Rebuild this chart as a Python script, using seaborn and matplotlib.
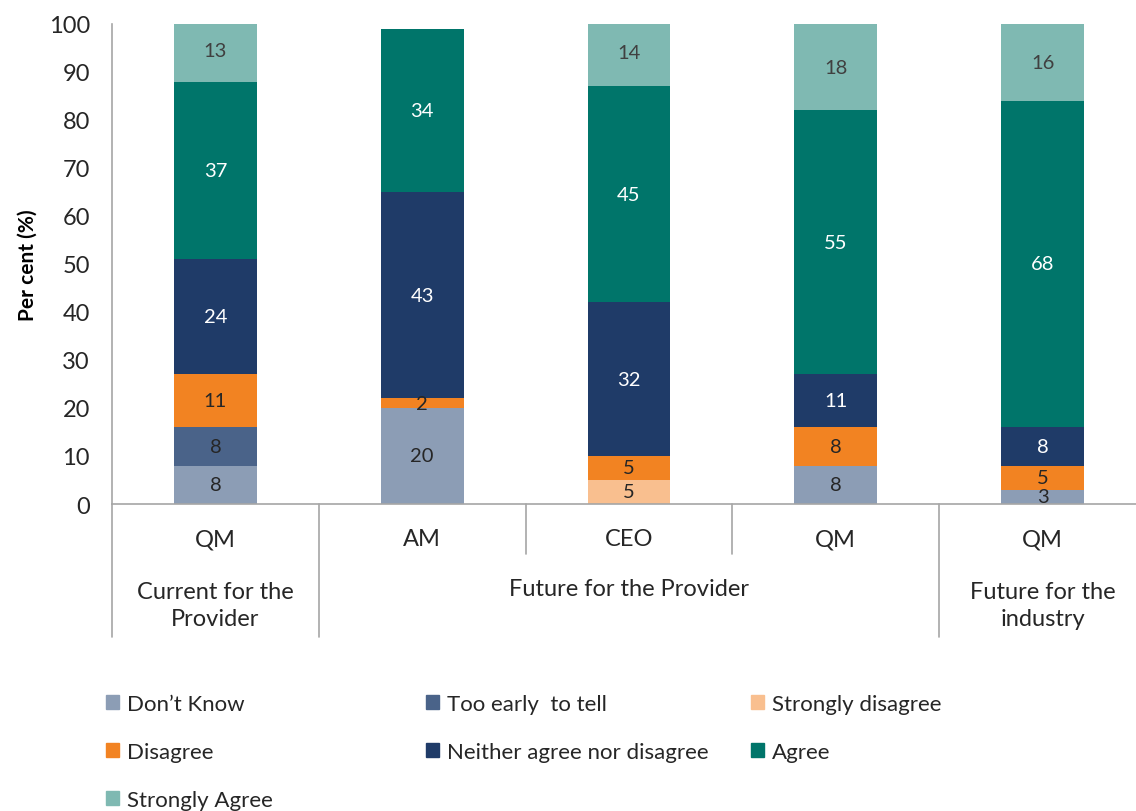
import matplotlib
matplotlib.use("Agg")
import matplotlib.pyplot as plt
import matplotlib.patches as mpatches
import seaborn as sns
import numpy as np
import pandas as pd

# ---- data ----
categories = ["QM", "AM", "CEO", "QM", "QM"]
groups = ["Current for the\nProvider", "Future for the Provider", "Future for the\nindustry"]
series = ["Don\u2019t Know", "Too early  to tell", "Strongly disagree", "Disagree",
          "Neither agree nor disagree", "Agree", "Strongly Agree"]
dont_know = [8, 20, 0, 8, 3]
too_early = [8, 0, 0, 0, 0]
strongly_disagree = [0, 0, 5, 0, 0]
disagree = [11, 2, 5, 8, 5]
neither = [24, 43, 32, 11, 8]
agree = [37, 34, 45, 55, 68]
strongly_agree = [13, 0, 14, 18, 16]

colors = ["#8C9DB5", "#4A6389", "#F9BF8F", "#F28322", "#1F3B68", "#00756A", "#7FB9B2"]
label_colors = ["#262626", "#262626", "#262626", "#262626", "white", "white", "#404040"]

values = [dont_know, too_early, strongly_disagree, disagree, neither, agree, strongly_agree]

sns.set_style("white")
plt.rcParams["font.family"] = ["Lato", "DejaVu Sans"]

fig = plt.figure(figsize=(11.36, 8.12), dpi=100)
ax_left = 112 / 1136
ax_w = (1146 - 112) / 1136
ax_bot = (812 - 505) / 812
ax_h = 480 / 812
ax = fig.add_axes([ax_left, ax_bot, ax_w, ax_h])

ids = [str(i) for i in range(len(categories))]
vals = np.array(values, dtype=float)
cum = np.cumsum(vals, axis=0)

# draw cumulative totals from top layer down so they stack visually
for k in range(len(series) - 1, -1, -1):
    df = pd.DataFrame({"id": ids, "v": cum[k]})
    sns.barplot(data=df, x="id", y="v", order=ids, color=colors[k], width=0.4,
                saturation=1, ax=ax, edgecolor="none", linewidth=0)

# data labels
for k in range(len(series)):
    for i in range(len(categories)):
        v = vals[k, i]
        if v > 0:
            y = cum[k, i] - v / 2
            ax.text(i, y, f"{int(v)}", ha="center", va="center", fontsize=14.5,
                    color=label_colors[k])

ax.set_xlim(-0.5, 4.5)
ax.set_ylim(0, 100)
ax.set_yticks(np.arange(0, 101, 10))
ax.set_xticks([])
ax.set_xlabel("")
ax.set_ylabel("Per cent (%)", fontsize=15, fontweight="bold", color="black", labelpad=8)
ax.tick_params(axis="y", labelsize=17, colors="#262626", length=7, width=1,
               color="#A6A6A6", direction="out", pad=9)

for s in ["top", "right"]:
    ax.spines[s].set_visible(False)
for s in ["left", "bottom"]:
    ax.spines[s].set_color("#A6A6A6")
    ax.spines[s].set_linewidth(1.2)

# category axis structure
tr = ax.get_xaxis_transform()
long_y = -133 / 480
short_y = -50 / 480
for xb, yb in [(-0.5, long_y), (0.5, long_y), (1.5, short_y), (2.5, short_y), (3.5, long_y)]:
    ax.plot([xb, xb], [0, yb], transform=tr, color="#A6A6A6", lw=1.2, clip_on=False)

for i, c in enumerate(categories):
    ax.text(i, -35 / 480, c, transform=tr, ha="center", va="center", fontsize=17,
            color="#262626")

group_pos = [(0, -101 / 480), (2, -85 / 480), (4, -101 / 480)]
for (gx, gy), g in zip(group_pos, groups):
    ax.text(gx, gy, g, transform=tr, ha="center", va="center", fontsize=17,
            color="#262626", linespacing=1.4)

# legend: three columns placed individually
handles = [mpatches.Patch(color=colors[k], label=series[k]) for k in range(len(series))]
cols = [[0, 3, 6], [1, 4], [2, 5]]
col_x = [106 / 1136, 426 / 1136, 751 / 1136]
for cx, idxs in zip(col_x, cols):
    leg = fig.legend(handles=[handles[k] for k in idxs], loc="upper left",
                     bbox_to_anchor=(cx, (812 - 695) / 812), frameon=False,
                     fontsize=16, handlelength=0.6, handleheight=0.6,
                     handletextpad=0.35, labelspacing=1.25, borderaxespad=0,
                     borderpad=0)
    for t in leg.get_texts():
        t.set_color("#262626")

fig.savefig("out.png", dpi=100)
